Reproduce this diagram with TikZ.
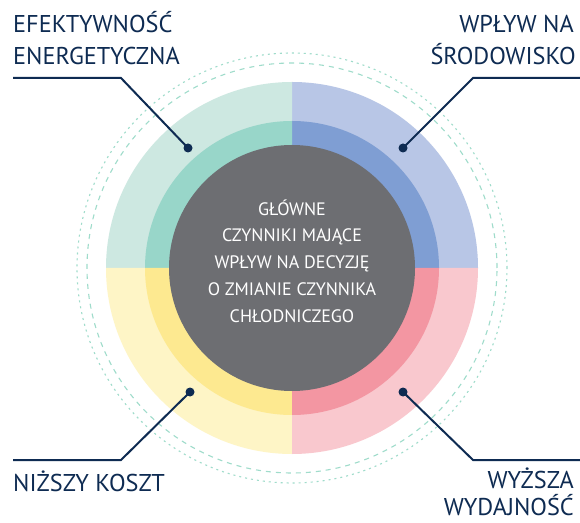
\documentclass[tikz,border=0pt]{standalone}
\usepackage{fontspec}
\setmainfont{PT Sans}
\definecolor{tealL}{HTML}{CDE8E1}
\definecolor{tealM}{HTML}{98D6C9}
\definecolor{blueL}{HTML}{B8C6E6}
\definecolor{blueM}{HTML}{7F9ED3}
\definecolor{pinkL}{HTML}{F9C8CE}
\definecolor{pinkM}{HTML}{F396A2}
\definecolor{yelL}{HTML}{FEF5C6}
\definecolor{yelM}{HTML}{FDE990}
\definecolor{coregray}{HTML}{6D6E72}
\definecolor{navy}{HTML}{0E2B52}
\definecolor{dashcol}{HTML}{9FDCCB}
\begin{document}
\begin{tikzpicture}[x=1pt,y=1pt,
  leader/.style={navy, line width=2pt},
  dotmark/.style={circle, fill=navy, minimum size=9pt, inner sep=0pt},
  lbl/.style={text=navy, font=\fontsize{24.3}{30}\selectfont, inner sep=0pt},
  ring/.style={dashcol, line width=1.1pt}]
\useasboundingbox (0,0) rectangle (580,522);
\fill[white] (0,0) rectangle (580,522);
\coordinate (C) at (292,254);
% dashed rings
\draw[ring, dash pattern=on 2pt off 4pt] (C) circle[radius=215];
\draw[ring, dash pattern=on 5pt off 5pt] (C) circle[radius=205];
% outer sectors
\fill[blueL] (C) -- ++(0:186) arc[start angle=0,end angle=90,radius=186] -- cycle;
\fill[tealL] (C) -- ++(90:186) arc[start angle=90,end angle=180,radius=186] -- cycle;
\fill[yelL] (C) -- ++(180:186) arc[start angle=180,end angle=270,radius=186] -- cycle;
\fill[pinkL] (C) -- ++(270:186) arc[start angle=270,end angle=360,radius=186] -- cycle;
% middle sectors
\fill[blueM] (C) -- ++(0:147) arc[start angle=0,end angle=90,radius=147] -- cycle;
\fill[tealM] (C) -- ++(90:147) arc[start angle=90,end angle=180,radius=147] -- cycle;
\fill[yelM] (C) -- ++(180:147) arc[start angle=180,end angle=270,radius=147] -- cycle;
\fill[pinkM] (C) -- ++(270:147) arc[start angle=270,end angle=360,radius=147] -- cycle;
% core
\node[circle, fill=coregray, minimum size=246pt, inner sep=0pt] (core) at (C) {};
\node[text=white, align=center, inner sep=0pt, font=\fontsize{18}{26.8}\selectfont] (title) at (292,261)
  {GŁÓWNE\\CZYNNIKI MAJĄCE\\WPŁYW NA DECYZJĘ\\O ZMIANIE CZYNNIKA\\CHŁODNICZEGO};
% leaders
\node[dotmark] (dTL) at (188,374) {};
\node[dotmark] (dTR) at (403,374) {};
\node[dotmark] (dBL) at (190,130) {};
\node[dotmark] (dBR) at (403,130) {};
\coordinate (bTL) at (121,444); \coordinate (eTL) at (13,444);
\coordinate (bTR) at (473,444); \coordinate (eTR) at (580,444);
\coordinate (bBL) at (121,62);  \coordinate (eBL) at (13,62);
\coordinate (bBR) at (473,62);  \coordinate (eBR) at (580,62);
\draw[leader] (dTL.center) -- (bTL) -- (eTL);
\draw[leader] (dTR.center) -- (bTR) -- (eTR);
\draw[leader] (dBL.center) -- (bBL) -- (eBL);
\draw[leader] (dBR.center) -- (bBR) -- (eBR);
% labels
\node[lbl, anchor=base west] (tl1) at (13,489) {EFEKTYWNOŚĆ};
\node[lbl, anchor=base west] (tl2) at (13,457) {ENERGETYCZNA};
\node[lbl, anchor=base east] (tr1) at (574,489) {WPŁYW NA};
\node[lbl, anchor=base east] (tr2) at (576,457) {ŚRODOWISKO};
\node[lbl, anchor=base west] (bl1) at (13,31) {NIŻSZY KOSZT};
\node[lbl, anchor=base east] (br1) at (574,33.5) {WYŻSZA};
\node[lbl, anchor=base east] (br2) at (574,7) {WYDAJNOŚĆ};
\end{tikzpicture}
\end{document}
